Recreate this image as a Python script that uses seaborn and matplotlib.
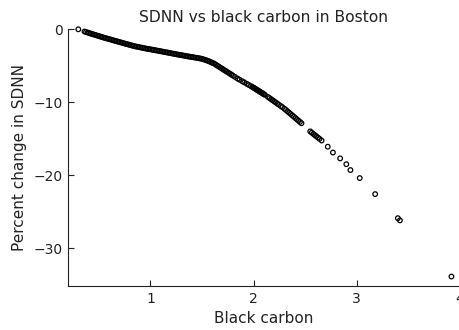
import matplotlib
matplotlib.use("Agg")
import matplotlib.pyplot as plt
import seaborn as sns
import pandas as pd

# Black carbon values (x) and fitted percent change in SDNN (y)
black_carbon = [
    0.300,
    0.360, 0.375, 0.390, 0.405, 0.420, 0.435, 0.450, 0.465, 0.480, 0.495,
    0.510, 0.525, 0.540, 0.555, 0.570, 0.585, 0.600, 0.615, 0.630, 0.645,
    0.660, 0.675, 0.690, 0.705, 0.720, 0.735, 0.750, 0.765, 0.780, 0.795,
    0.810, 0.825, 0.840, 0.855, 0.870, 0.885, 0.900, 0.915, 0.930, 0.945,
    0.960, 0.975, 0.990, 1.005, 1.020, 1.035, 1.050, 1.065, 1.080, 1.095,
    1.110, 1.125, 1.140, 1.155, 1.170, 1.185, 1.200, 1.215, 1.230, 1.245,
    1.260, 1.275, 1.290, 1.305, 1.320, 1.335, 1.350, 1.365, 1.380, 1.395,
    1.410, 1.425, 1.440, 1.455, 1.470, 1.485, 1.500, 1.515, 1.530, 1.545,
    1.560, 1.575, 1.590, 1.605, 1.620,
    1.635, 1.650, 1.665, 1.680, 1.695, 1.710, 1.725, 1.740, 1.755, 1.770,
    1.785, 1.800,
    1.820, 1.845, 1.865, 1.890, 1.910, 1.935, 1.955, 1.975,
    1.990, 2.000, 2.010, 2.020, 2.030, 2.040, 2.050, 2.060, 2.070, 2.080,
    2.090, 2.100, 2.110,
    2.140, 2.155, 2.170, 2.185, 2.200, 2.215, 2.230, 2.245, 2.265, 2.280,
    2.300, 2.315, 2.330, 2.345, 2.360, 2.375, 2.390, 2.405, 2.420, 2.435,
    2.450, 2.465,
    2.550, 2.565, 2.580, 2.595, 2.610, 2.625, 2.640, 2.660,
    2.720, 2.770, 2.840, 2.900, 2.940, 3.030, 3.180, 3.400, 3.420, 3.920,
]

pct_change_sdnn = [
    0.00,
    -0.30, -0.37, -0.44, -0.51, -0.58, -0.65, -0.72, -0.78, -0.85, -0.91,
    -0.98, -1.04, -1.11, -1.17, -1.23, -1.29, -1.35, -1.41, -1.47, -1.53,
    -1.59, -1.65, -1.71, -1.77, -1.83, -1.89, -1.95, -2.01, -2.06, -2.12,
    -2.18, -2.24, -2.29, -2.35, -2.39, -2.43, -2.48, -2.52, -2.56, -2.61,
    -2.65, -2.69, -2.72, -2.76, -2.80, -2.84, -2.88, -2.92, -2.96, -3.00,
    -3.04, -3.08, -3.12, -3.16, -3.20, -3.24, -3.28, -3.33, -3.37, -3.41,
    -3.45, -3.49, -3.52, -3.56, -3.60, -3.64, -3.68, -3.72, -3.75, -3.79,
    -3.82, -3.86, -3.90, -3.93, -3.97, -4.01, -4.05, -4.12, -4.19, -4.26,
    -4.34, -4.43, -4.53, -4.63, -4.71,
    -4.86, -5.00, -5.13, -5.27, -5.40, -5.54, -5.67, -5.81, -5.94, -6.08,
    -6.21, -6.35,
    -6.53, -6.76, -6.92, -7.12, -7.28, -7.48, -7.64, -7.80,
    -7.92, -8.00, -8.09, -8.18, -8.27, -8.36, -8.45, -8.54, -8.63, -8.72,
    -8.81, -8.90, -8.99,
    -9.28, -9.43, -9.58, -9.73, -9.88, -10.03, -10.18, -10.33, -10.53, -10.68,
    -10.90, -11.07, -11.25, -11.43, -11.61, -11.79, -11.97, -12.15, -12.34, -12.52,
    -12.70, -12.88,
    -14.00, -14.17, -14.34, -14.51, -14.68, -14.85, -15.02, -15.25,
    -16.10, -16.90, -17.70, -18.50, -19.30, -20.40, -22.60, -25.90, -26.20, -33.90,
]

x_ticks = [1, 2, 3, 4]
y_ticks = [0, -10, -20, -30]
title_text = "SDNN vs black carbon in Boston"
x_label = "Black carbon"
y_label = "Percent change in SDNN"

df = pd.DataFrame({"bc": black_carbon, "sdnn": pct_change_sdnn})

sns.set_style("ticks")
plt.rcParams["font.family"] = ["DejaVu Sans"]
ink = "#222222"

fig = plt.figure(figsize=(4.59, 3.30), dpi=100)
ax = fig.add_axes([68 / 459, 44 / 330, 391.7 / 459, 256.7 / 330])

sns.scatterplot(data=df, x="bc", y="sdnn", ax=ax, marker="o",
                facecolor="none", edgecolor="black", s=11, linewidth=0.9,
                clip_on=False, legend=False)

ax.set_xlim(0.2, 4.0)
ax.set_ylim(-35.2, 0)
ax.set_xticks(x_ticks)
ax.set_yticks(y_ticks)
ax.set_xticklabels([str(t) for t in x_ticks])
ax.set_yticklabels(["0" if t == 0 else "\u2212" + str(abs(t)) for t in y_ticks])

for side in ["top", "right"]:
    ax.spines[side].set_visible(False)
for side in ["left", "bottom"]:
    ax.spines[side].set_color(ink)
    ax.spines[side].set_linewidth(0.8)

ax.tick_params(axis="both", direction="in", length=4.5, width=0.8,
               colors=ink, labelsize=10, pad=4)

ax.set_title(title_text, fontsize=11.2, color=ink, pad=5)
ax.set_xlabel(x_label, fontsize=11, color=ink, labelpad=4)
ax.set_ylabel(y_label, fontsize=11, color=ink)
ax.yaxis.set_label_coords(-0.105, 0.5)

fig.savefig("out.png", dpi=100)
